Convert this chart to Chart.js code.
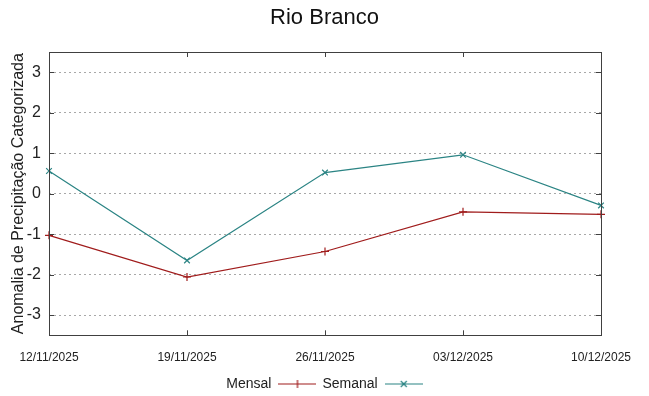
<!DOCTYPE html>
<html>
<head>
<meta charset="utf-8">
<script src="https://cdn.jsdelivr.net/npm/chart.js@4"></script>
<style>
  html, body { margin: 0; padding: 0; background: #fff; }
  #wrap { width: 649px; height: 396px; }
</style>
</head>
<body>
<div id="wrap"><canvas id="chart"></canvas></div>
<script>
// data
const dates = ["12/11/2025", "19/11/2025", "26/11/2025", "03/12/2025", "10/12/2025"];
const mensal = [-1.03, -2.06, -1.43, -0.45, -0.51];
const semanal = [0.56, -1.65, 0.52, 0.96, -0.29];
const yTicks = [-3, -2, -1, 0, 1, 2, 3];

const RED = "#a01c1c";
const TEAL = "#2b8484";
const FONT = "'Liberation Sans', Arial, sans-serif";

// legend sample: short line with the marker in the middle
function legendIcon(color, rot) {
  const c = document.createElement("canvas");
  c.width = 38;
  c.height = 10;
  const g = c.getContext("2d");
  g.strokeStyle = color;
  g.lineWidth = 1.2;
  g.beginPath();
  g.moveTo(0, 5); g.lineTo(38, 5);
  if (rot) {
    g.moveTo(16, 2); g.lineTo(22, 8);
    g.moveTo(16, 8); g.lineTo(22, 2);
  } else {
    g.moveTo(19, 1); g.lineTo(19, 9);
  }
  g.stroke();
  return c;
}
const icons = [legendIcon(RED, false), legendIcon(TEAL, true)];

// frame around plot area + inward tick marks (gnuplot look)
const framePlugin = {
  id: "frame",
  afterDatasetsDraw(chart) {
    const { ctx, chartArea: a, scales } = chart;
    ctx.save();
    ctx.strokeStyle = "#404040";
    ctx.lineWidth = 1;
    ctx.strokeRect(Math.round(a.left) + 0.5, Math.round(a.top) + 0.5,
      Math.round(a.right - a.left), Math.round(a.bottom - a.top));
    ctx.beginPath();
    dates.forEach((d, i) => {
      const x = Math.round(scales.x.getPixelForValue(i)) + 0.5;
      ctx.moveTo(x, a.bottom); ctx.lineTo(x, a.bottom - 5);
      ctx.moveTo(x, a.top); ctx.lineTo(x, a.top + 5);
    });
    yTicks.forEach(v => {
      const y = Math.round(scales.y.getPixelForValue(v)) + 0.5;
      ctx.moveTo(a.left, y); ctx.lineTo(a.left + 5, y);
      ctx.moveTo(a.right, y); ctx.lineTo(a.right - 5, y);
    });
    ctx.stroke();
    ctx.restore();
  }
};

new Chart(document.getElementById("chart"), {
  type: "line",
  data: {
    labels: dates,
    datasets: [
      {
        label: "Mensal",
        data: mensal,
        borderColor: RED,
        backgroundColor: RED,
        borderWidth: 1.2,
        pointStyle: "cross",
        pointRadius: 4,
        pointBorderWidth: 1.2,
        tension: 0,
      },
      {
        label: "Semanal",
        data: semanal,
        borderColor: TEAL,
        backgroundColor: TEAL,
        borderWidth: 1.2,
        pointStyle: "crossRot",
        pointRadius: 4,
        pointBorderWidth: 1.2,
        tension: 0,
      },
    ],
  },
  options: {
    responsive: true,
    maintainAspectRatio: false,
    animation: false,
    layout: { padding: { top: 0, right: 0, bottom: -5, left: 0 } },
    plugins: {
      title: {
        display: true,
        text: "Rio Branco",
        color: "#111",
        font: { family: FONT, size: 22, weight: "normal" },
        padding: { top: 5, bottom: 20.6 },
      },
      legend: {
        position: "bottom",
        rtl: true,
        reverse: true,
        labels: {
          usePointStyle: true,
          pointStyleWidth: 38,
          padding: 6,
          color: "#222",
          font: { family: FONT, size: 14 },
          generateLabels: chart => chart.data.datasets.map((ds, i) => ({
            text: ds.label,
            pointStyle: icons[i],
            fillStyle: "transparent",
            strokeStyle: "transparent",
            lineWidth: 0,
            fontColor: "#222",
            hidden: false,
            datasetIndex: i,
          })),
        },
      },
      tooltip: { enabled: false },
    },
    scales: {
      x: {
        offset: false,
        grid: { display: false, drawTicks: false },
        border: { display: false },
        ticks: {
          color: "#222",
          font: { family: FONT, size: 12 },
          padding: 15,
          maxRotation: 0,
          autoSkip: false,
        },
        afterFit(scale) { scale.height = 35.7; },
      },
      y: {
        min: -3.5,
        max: 3.5,
        afterBuildTicks(scale) { scale.ticks = yTicks.map(v => ({ value: v })); },
        grid: {
          drawTicks: false,
          color: "#a8a8a8",
          lineWidth: 1,
        },
        border: { display: false, dash: [2, 3] },
        ticks: {
          color: "#222",
          font: { family: FONT, size: 16 },
          padding: 8,
        },
        title: {
          display: true,
          text: "Anomalia de Precipitação Categorizada",
          color: "#222",
          font: { family: FONT, size: 16 },
          padding: { top: 9, bottom: 0 },
        },
        afterFit(scale) { scale.width = 49; },
      },
      // empty right axis, only to reserve the right margin
      yr: {
        position: "right",
        min: -3.5,
        max: 3.5,
        grid: { display: false, drawTicks: false },
        border: { display: false },
        ticks: { display: false },
        afterFit(scale) { scale.width = 48; },
      },
    },
  },
  plugins: [framePlugin],
});
</script>
</body>
</html>
